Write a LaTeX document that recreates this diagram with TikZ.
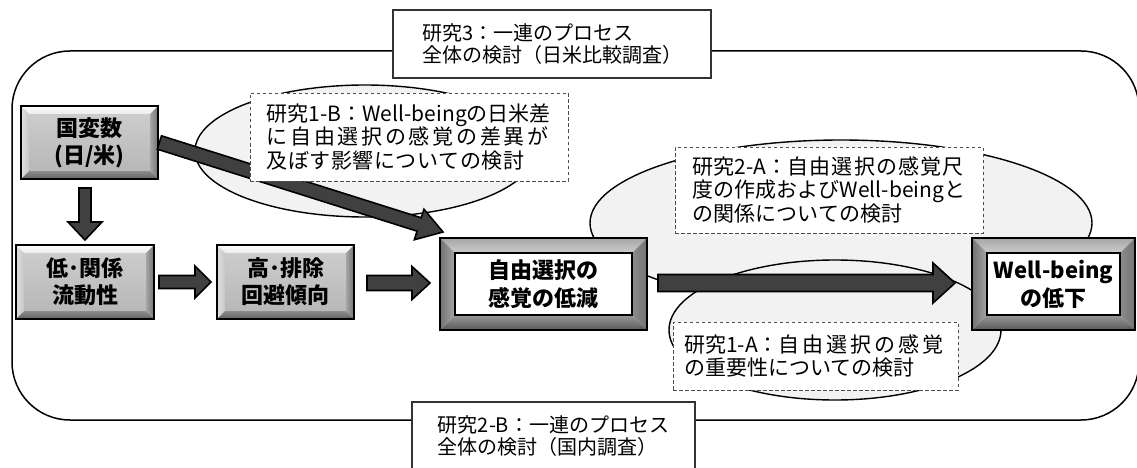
\documentclass[tikz,border=0pt]{standalone}
\usepackage{fontspec}
\setmainfont{Noto Sans CJK JP}
\usetikzlibrary{calc}
\definecolor{arrowgray}{HTML}{404040}
\definecolor{bubblegray}{HTML}{F2F2F2}
\makeatletter
\def\js@endmark{\js@end}
\def\js@loop#1{\def\js@test{#1}\ifx\js@test\js@endmark\else{#1}\kern\js@amt\relax\expandafter\js@loop\fi}
\newcommand\jspread[2]{\def\js@amt{#1}\js@loop#2\js@end}
\makeatother
\newcommand\bevelcorners[1]{%
  \path (path picture bounding box.north west) coordinate (pNW)
        (path picture bounding box.north east) coordinate (pNE)
        (path picture bounding box.south east) coordinate (pSE)
        (path picture bounding box.south west) coordinate (pSW);
  \path ($(pNW)+(#1,-#1)$) coordinate (iNW)
        ($(pNE)+(-#1,-#1)$) coordinate (iNE)
        ($(pSE)+(-#1,#1)$) coordinate (iSE)
        ($(pSW)+(#1,#1)$) coordinate (iSW);
}
\newcommand\bevelgray{%
  \bevelcorners{8pt}%
  \shade[top color=black!20, bottom color=black!28] (iNW) rectangle (iSE);
  \shade[top color=white, bottom color=black!8] (pNW) -- (pNE) -- (iNE) -- (iNW) -- cycle;
  \shade[left color=black!12, right color=black!22] (pNW) -- (iNW) -- (iSW) -- (pSW) -- cycle;
  \shade[left color=black!35, right color=black!55] (pNE) -- (iNE) -- (iSE) -- (pSE) -- cycle;
  \shade[top color=black!45, bottom color=black!62] (pSW) -- (pSE) -- (iSE) -- (iSW) -- cycle;
}
\newcommand\bevelwhite{%
  \bevelcorners{15pt}%
  \shade[top color=black!35, middle color=white, bottom color=black!20] (pNW) -- (pNE) -- (iNE) -- (iNW) -- cycle;
  \shade[left color=black!55, middle color=white, right color=black!35] (pNW) -- (iNW) -- (iSW) -- (pSW) -- cycle;
  \shade[left color=black!45, middle color=black!8, right color=black!55] (pNE) -- (iNE) -- (iSE) -- (pSE) -- cycle;
  \shade[top color=black!40, bottom color=black!65] (pSW) -- (pSE) -- (iSE) -- (iSW) -- cycle;
  \fill[white] (iNW) rectangle (iSE);
  \draw[line width=1.8pt] (iNW) rectangle (iSE);
}
\newcommand\blockarrow[5]{% start, tip, shaft half, head half, head length
  \coordinate (ba-h) at ($(#2)!#5!(#1)$);
  \filldraw[blockarrow] ($(#1)!#3!90:(#2)$) -- ($(ba-h)!#3!90:(#2)$) -- ($(ba-h)!#4!90:(#2)$)
    -- (#2) -- ($(ba-h)!#4!-90:(#2)$) -- ($(ba-h)!#3!-90:(#2)$) -- ($(#1)!#3!-90:(#2)$) -- cycle;
}
\begin{document}
\begin{tikzpicture}[x=1pt,y=-1pt,
  font=\fontsize{21pt}{23.5pt}\selectfont,
  blockarrow/.style={fill=arrowgray, draw=black, line width=1.6pt, line join=miter},
  note/.style={draw=black!70, dash pattern=on 3.5pt off 2.5pt, line width=0.9pt, fill=white,
    align=left, inner sep=0pt},
  study/.style={draw=black!80, line width=1.2pt, fill=white, align=left, inner sep=0pt,
    font=\fontsize{20pt}{22pt}\selectfont},
  bubble/.style={draw=black, line width=1.4pt, fill=bubblegray},
  graybox/.style={draw=black, line width=2.8pt, align=center, inner sep=0pt,
    font=\fontsize{22pt}{27pt}\selectfont\bfseries, path picture={\bevelgray}},
  whitebox/.style={draw=black, line width=2.8pt, align=center, inner sep=0pt,
    font=\fontsize{22pt}{28pt}\selectfont\bfseries, path picture={\bevelwhite}}
]
\useasboundingbox (0,0) rectangle (1137,468);
\clip (0,0) rectangle (1137,468);

% outer frame
\draw[line width=1.5pt, rounded corners=58pt] (12,51) rectangle (1139,420);

% study labels on the frame
\node[study, minimum width=318pt, minimum height=68pt] (s3) at (552,44)
  {研究3：一連のプロセス\\全体の検討（日米比較調査）};
\node[study, minimum width=283pt, minimum height=68pt] (s2b) at (553.5,436)
  {研究2-B：一連のプロセス\\全体の検討（国内調査）};

% bubbles
\draw[bubble] (365,151) ellipse [x radius=170pt, y radius=66pt];
\draw[bubble] (841,223) ellipse [x radius=251pt, y radius=83pt];
\draw[bubble] (835,330) ellipse [x radius=166pt, y radius=70pt];

% process boxes
\node[graybox, minimum width=137pt, minimum height=73pt] (koku) at (89.5,142.5) {国変数\\(日/米)};
\node[graybox, minimum width=138pt, minimum height=74pt] (low) at (85,282) {低･関係\\流動性};
\node[graybox, minimum width=137pt, minimum height=74pt] (high) at (285.5,282) {高･排除\\回避傾向};
\node[whitebox, minimum width=207pt, minimum height=92pt] (free) at (543.5,284) {自由選択の\\感覚の低減};
\node[whitebox, minimum width=163pt, minimum height=92pt] (wb) at (1053.5,284) {Well-being\\の低下};

% arrows
\coordinate (dnS) at (85,188);
\coordinate (dnE) at (85,240);
\coordinate (h1S) at (159,282);
\coordinate (h1E) at (211,282);
\coordinate (h2S) at (367,283);
\coordinate (h2E) at (430,283);
\coordinate (mS) at (658,283);
\coordinate (mE) at (955,283);
\coordinate (dgE) at (443,232);
\blockarrow{dnS}{dnE}{6pt}{17pt}{18pt}
\blockarrow{h1S}{h1E}{6.5pt}{16pt}{16pt}
\blockarrow{h2S}{h2E}{7.5pt}{16.5pt}{18pt}
\blockarrow{mS}{mE}{8.5pt}{20pt}{22pt}
\blockarrow{koku.east}{dgE}{7pt}{16pt}{25pt}

% study notes
\node[note, minimum width=318pt, minimum height=88pt] (n1b) at (409,137)
  {研究1-B：Well-beingの日米差\\\jspread{2.7pt}{に自由選択の感覚の差異が}\\\jspread{0.5pt}{及ぼす影響についての検討}};
\node[note, minimum width=308pt, minimum height=86pt] (n2a) at (829,190)
  {研究2-A：\jspread{1.2pt}{自由選択の感覚尺}\\度の作成およびWell-beingと\\の関係についての検討};
\node[note, minimum width=285pt, minimum height=68pt] (n1a) at (815.5,356)
  {研究1-A：\jspread{3pt}{自由選択の感覚}\\の重要性についての検討};
\end{tikzpicture}
\end{document}
